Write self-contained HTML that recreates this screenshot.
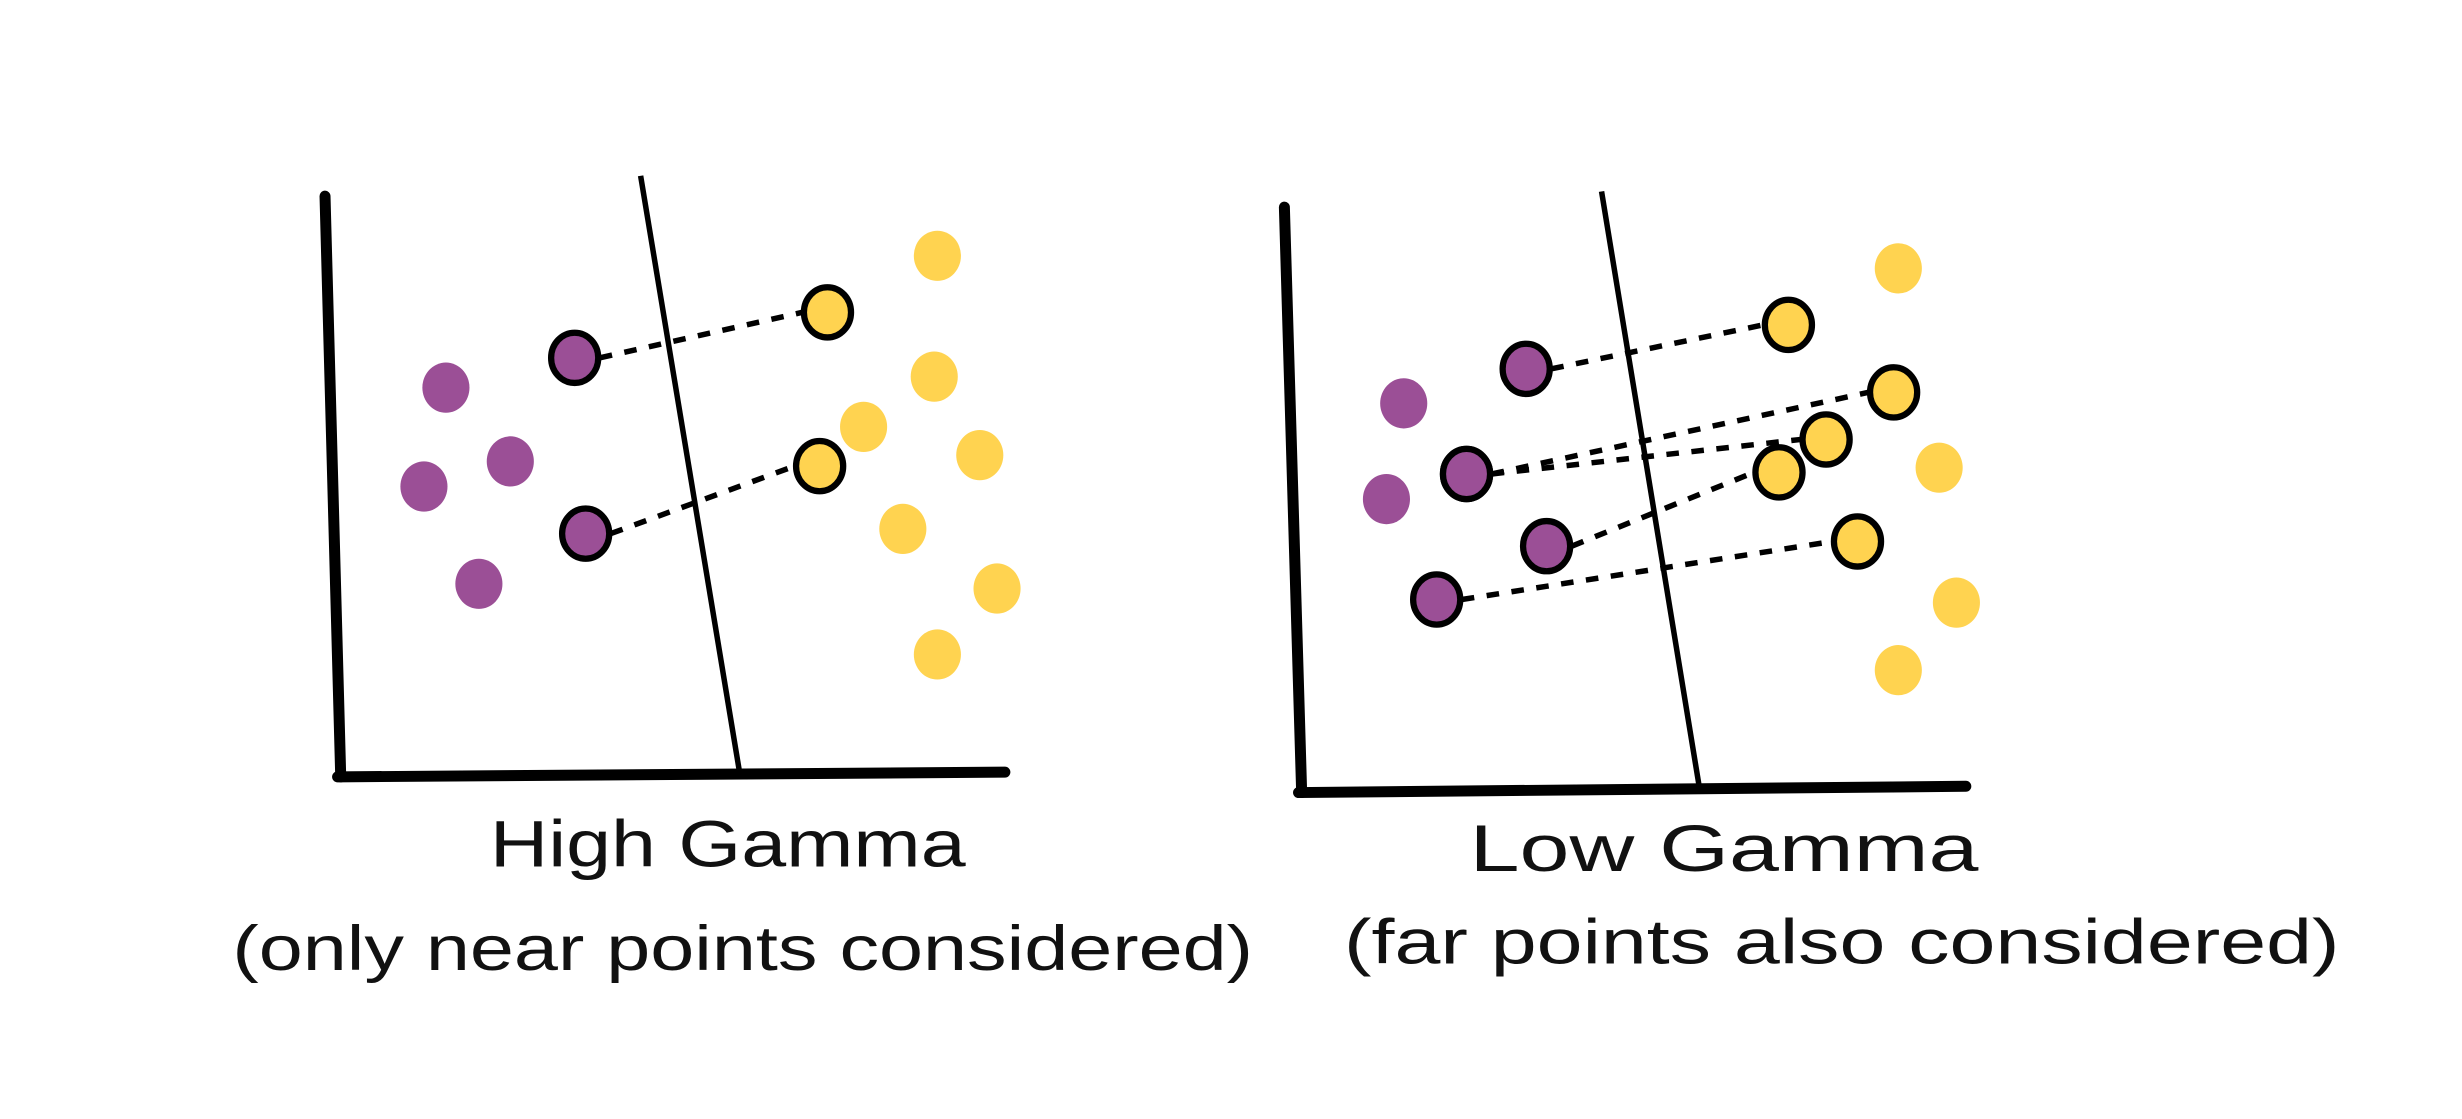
<!DOCTYPE html>
<html><head><meta charset="utf-8"><style>
html,body{margin:0;padding:0;background:#fff;width:2462px;height:1119px;overflow:hidden}
svg{display:block}
text{font-family:"Liberation Sans",sans-serif;fill:#111}
</style></head><body>
<svg id="s" width="2462" height="1119" viewBox="0 0 1568 713" preserveAspectRatio="none" xmlns="http://www.w3.org/2000/svg">
<g id="p1">
<line x1="207" y1="125" x2="217" y2="495" stroke="#000" stroke-width="7" stroke-linecap="round"/>
<line x1="215" y1="495" x2="640" y2="492" stroke="#000" stroke-width="7" stroke-linecap="round"/>
<line x1="408" y1="112" x2="471" y2="492" stroke="#000" stroke-width="3.5"/>
</g>
<g id="p2">
<line x1="818" y1="132" x2="829" y2="505" stroke="#000" stroke-width="7" stroke-linecap="round"/>
<line x1="827" y1="505" x2="1252" y2="501" stroke="#000" stroke-width="7" stroke-linecap="round"/>
<line x1="1020" y1="122" x2="1082" y2="500" stroke="#000" stroke-width="3.5"/>
</g>
<text x="312" y="552" font-size="42" textLength="303" lengthAdjust="spacingAndGlyphs">High Gamma</text>
<text x="148" y="618" font-size="40" textLength="650" lengthAdjust="spacingAndGlyphs">(only near points considered)</text>
<text x="936" y="555" font-size="42" textLength="324" lengthAdjust="spacingAndGlyphs">Low Gamma</text>
<text x="856" y="614" font-size="40" textLength="634" lengthAdjust="spacingAndGlyphs">(far points also considered)</text>
</svg>
<script>
const purpleL=[[284,247],[270,310],[325,294],[305,372]];
const yellowL=[[597,163],[595,240],[550,272],[624,290],[575,337],[635,375],[597,417]];
const purpleR=[[894,257],[883,318]];
const yellowR=[[1209,171],[1235,298],[1246,384],[1209,427]];
const supportL=[[[366,228],[527,199]],[[373,340],[522,297]]];
const supportR=[[[972,235],[1139,207]],[[934,302],[1206,250]],[[934,302],[1163,280]],[[985,348],[1133,301]],[[915,382],[1183,345]]];
const NS="http://www.w3.org/2000/svg";
const svg=document.getElementById('s');
function dot(p,c,name,outline){
  const e=document.createElementNS(NS,'ellipse');
  e.setAttribute('cx',p[0]);e.setAttribute('cy',p[1]);
  e.setAttribute('rx',15);e.setAttribute('ry',16);
  e.setAttribute('fill',c);
  if(outline){e.setAttribute('stroke','#000');e.setAttribute('stroke-width',4);}
  
  
  svg.appendChild(e);
}
function dash(a,b){
  const l=document.createElementNS(NS,'line');
  l.setAttribute('x1',a[0]+16);l.setAttribute('y1',a[1]);
  l.setAttribute('x2',b[0]-16);l.setAttribute('y2',b[1]);
  l.setAttribute('stroke','#000');l.setAttribute('stroke-width',3.5);
  l.setAttribute('stroke-dasharray','8 8');
  
  
  svg.appendChild(l);
}
purpleL.concat(purpleR).forEach(p=>dot(p,'#9b4f96','purple-point',false));
yellowL.concat(yellowR).forEach(p=>dot(p,'#ffd350','yellow-point',false));
supportL.concat(supportR).forEach(s=>dash(s[0],s[1]));
supportL.concat(supportR).forEach(s=>{dot(s[0],'#9b4f96','purple-considered-point',true);dot(s[1],'#ffd350','yellow-considered-point',true);});
</script>
</body></html>
